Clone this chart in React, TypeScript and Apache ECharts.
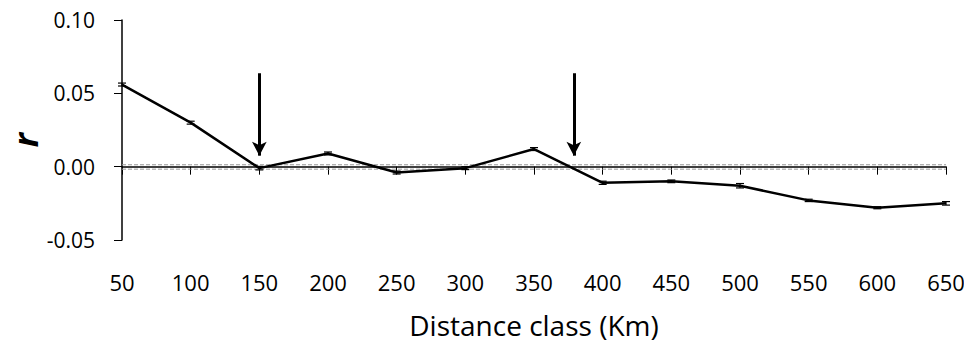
import React, { useEffect, useRef } from "react";
import * as echarts from "echarts";

const distances = [50, 100, 150, 200, 250, 300, 350, 400, 450, 500, 550, 600, 650];
const rValues = [0.056, 0.030, -0.001, 0.009, -0.004, -0.001, 0.012, -0.011, -0.010, -0.013, -0.023, -0.028, -0.025];
const errValues = [0.001, 0.001, 0.0012, 0.001, 0.001, 0.001, 0.001, 0.0011, 0.0009, 0.0015, 0.0008, 0.0007, 0.0012];
const upperCI = [0.0013, 0.0013, 0.0013, 0.0013, 0.0013, 0.0013, 0.0013, 0.0013, 0.0013, 0.0013, 0.0013, 0.0013, 0.0013];
const lowerCI = [-0.0017, -0.0017, -0.0017, -0.0017, -0.0017, -0.0017, -0.0017, -0.0017, -0.0017, -0.0017, -0.0017, -0.0017, -0.0017];
const arrowX = [150, 379];
const arrowTop = 0.0637;
const arrowBottom = 0.0075;

const FONT = "'Open Sans', 'Noto Sans', sans-serif";

export default function App() {
  const ref = useRef<HTMLDivElement>(null);
  useEffect(() => {
    if (!ref.current) return;
    const chart = echarts.init(ref.current, null, { renderer: "svg" });
    const lineData = distances.map((d, i) => [d, rValues[i]]);
    const errData = distances.map((d, i) => [d, rValues[i] - errValues[i], rValues[i] + errValues[i]]);
    chart.setOption({
      animation: false,
      backgroundColor: "#ffffff",
      grid: { left: 122, right: 18, top: 20, bottom: 109, containLabel: false, outerBoundsMode: "none" },
      graphic: [
        {
          type: "text",
          x: 25,
          y: 140,
          rotation: Math.PI / 2,
          style: {
            text: "r",
            fontSize: 34,
            fontWeight: "bold",
            fontStyle: "italic",
            fontFamily: FONT,
            fill: "#000",
            align: "center",
            verticalAlign: "middle",
          },
        },
      ],
      xAxis: [
        {
          type: "value",
          min: 50,
          max: 650,
          interval: 50,
          axisLine: { show: true, onZero: true, lineStyle: { color: "#000", width: 1.5 } },
          axisTick: { show: true, length: 8, lineStyle: { color: "#000", width: 1 } },
          axisLabel: { show: false },
          splitLine: { show: false },
        },
        {
          type: "value",
          position: "bottom",
          min: 50,
          max: 650,
          interval: 50,
          axisLine: { show: false, onZero: false },
          axisTick: { show: false },
          axisLabel: { show: true, margin: 31, fontSize: 22, color: "#000", fontFamily: FONT },
          splitLine: { show: false },
          name: "Distance class (Km)",
          nameLocation: "middle",
          nameGap: 71,
          nameTextStyle: { fontSize: 28, color: "#000", fontFamily: FONT },
        },
      ],
      yAxis: {
        type: "value",
        min: -0.05,
        max: 0.1,
        interval: 0.05,
        axisLine: { show: true, lineStyle: { color: "#000", width: 1.5 } },
        axisTick: { show: true, length: 8, lineStyle: { color: "#000", width: 1 } },
        axisLabel: {
          margin: 27,
          fontSize: 21,
          color: "#000",
          fontFamily: FONT,
          formatter: (v: number) => v.toFixed(2),
        },
        splitLine: { show: false },
      },
      series: [
        {
          type: "line",
          xAxisIndex: 0,
          data: distances.map((d, i) => [d, upperCI[i]]),
          symbol: "none",
          lineStyle: { color: "#999", width: 1, type: [4, 2] },
          z: 1,
        },
        {
          type: "line",
          xAxisIndex: 0,
          data: distances.map((d, i) => [d, lowerCI[i]]),
          symbol: "none",
          lineStyle: { color: "#999", width: 1, type: [4, 2] },
          z: 1,
        },
        {
          type: "line",
          xAxisIndex: 0,
          data: lineData,
          symbol: "none",
          lineStyle: { color: "#000", width: 2.5 },
          z: 3,
          markLine: {
            silent: true,
            symbol: ["none", "arrow"],
            symbolSize: [11, 14],
            label: { show: false },
            lineStyle: { color: "#000", width: 3, type: "solid" },
            data: arrowX.map((x) => [
              { coord: [x, arrowTop] },
              { coord: [x, arrowBottom] },
            ]),
          },
        },
        {
          type: "custom",
          xAxisIndex: 0,
          data: errData,
          z: 4,
          renderItem: (params: any, api: any) => {
            const x = api.value(0);
            const lo = api.coord([x, api.value(1)]);
            const hi = api.coord([x, api.value(2)]);
            const w = 4;
            const style = { stroke: "#000", lineWidth: 1.2 };
            return {
              type: "group",
              children: [
                { type: "line", shape: { x1: lo[0], y1: lo[1], x2: hi[0], y2: hi[1] }, style },
                { type: "line", shape: { x1: lo[0] - w, y1: lo[1], x2: lo[0] + w, y2: lo[1] }, style },
                { type: "line", shape: { x1: hi[0] - w, y1: hi[1], x2: hi[0] + w, y2: hi[1] }, style },
              ],
            };
          },
        },
      ],
    });
    return () => chart.dispose();
  }, []);
  return <div ref={ref} style={{ width: 964, height: 349, position: "absolute", left: 0, top: 0 }} />;
}
